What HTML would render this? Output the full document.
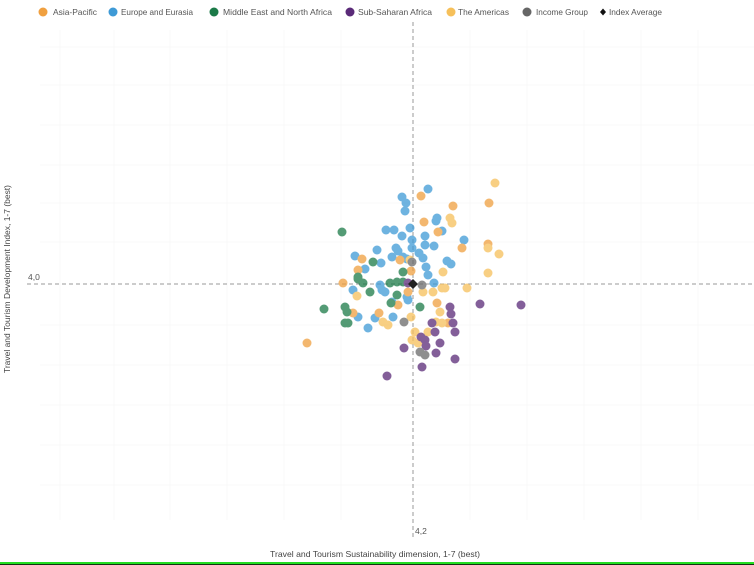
<!DOCTYPE html>
<html><head><meta charset="utf-8"><style>
html,body{margin:0;padding:0;background:#fff;}
svg{display:block;}
text{font-family:"Liberation Sans",sans-serif;}
</style></head><body>
<svg width="754" height="565" viewBox="0 0 754 565" xmlns="http://www.w3.org/2000/svg">
<rect width="754" height="565" fill="#fff"/>
<!-- faint grid -->
<g stroke="#f9f9f9" stroke-width="1">
<line x1="60" y1="30" x2="60" y2="520"/><line x1="114" y1="30" x2="114" y2="520"/><line x1="170" y1="30" x2="170" y2="520"/><line x1="227" y1="30" x2="227" y2="520"/>
<line x1="284" y1="30" x2="284" y2="520"/><line x1="341" y1="30" x2="341" y2="520"/><line x1="470" y1="30" x2="470" y2="520"/><line x1="527" y1="30" x2="527" y2="520"/>
<line x1="584" y1="30" x2="584" y2="520"/><line x1="641" y1="30" x2="641" y2="520"/><line x1="698" y1="30" x2="698" y2="520"/>
<line x1="40" y1="47" x2="754" y2="47"/><line x1="40" y1="85" x2="754" y2="85"/><line x1="40" y1="125" x2="754" y2="125"/><line x1="40" y1="165" x2="754" y2="165"/>
<line x1="40" y1="203" x2="754" y2="203"/><line x1="40" y1="242" x2="754" y2="242"/><line x1="40" y1="325" x2="754" y2="325"/><line x1="40" y1="365" x2="754" y2="365"/>
<line x1="40" y1="405" x2="754" y2="405"/><line x1="40" y1="445" x2="754" y2="445"/><line x1="40" y1="485" x2="754" y2="485"/>
</g>
<!-- legend -->
<g font-size="8.5" fill="#555">
<circle cx="43" cy="12" r="4.5" fill="#f0a040"/><text x="53" y="15" textLength="44" lengthAdjust="spacingAndGlyphs">Asia-Pacific</text>
<circle cx="113" cy="12" r="4.5" fill="#3e9ad6"/><text x="121" y="15" textLength="72" lengthAdjust="spacingAndGlyphs">Europe and Eurasia</text>
<circle cx="214" cy="12" r="4.5" fill="#1b7a48"/><text x="223" y="15" textLength="109" lengthAdjust="spacingAndGlyphs">Middle East and North Africa</text>
<circle cx="350" cy="12" r="4.5" fill="#5a2a78"/><text x="358" y="15" textLength="74" lengthAdjust="spacingAndGlyphs">Sub-Saharan Africa</text>
<circle cx="451" cy="12" r="4.5" fill="#f6c05a"/><text x="458" y="15" textLength="51" lengthAdjust="spacingAndGlyphs">The Americas</text>
<circle cx="527" cy="12" r="4.5" fill="#666"/><text x="536" y="15" textLength="52" lengthAdjust="spacingAndGlyphs">Income Group</text>
<path d="M603 8.5 L606 12 L603 15.5 L600 12 Z" fill="#111"/><text x="609" y="15" textLength="53" lengthAdjust="spacingAndGlyphs">Index Average</text>
</g>
<!-- reference lines -->
<line x1="413" y1="22" x2="413" y2="540" stroke="#999" stroke-width="1" stroke-dasharray="4,3"/>
<line x1="27" y1="284" x2="754" y2="284" stroke="#999" stroke-width="1" stroke-dasharray="4,3"/>
<text x="28" y="280" font-size="8.5" fill="#555">4,0</text>
<text x="415" y="534" font-size="8.5" fill="#555">4,2</text>
<text x="375" y="557" font-size="8.5" fill="#444" text-anchor="middle" textLength="210" lengthAdjust="spacingAndGlyphs">Travel and Tourism Sustainability dimension, 1-7 (best)</text>
<text transform="translate(10,279) rotate(-90)" font-size="8.5" fill="#444" text-anchor="middle" textLength="188" lengthAdjust="spacingAndGlyphs">Travel and Tourism Development Index, 1-7 (best)</text>
<!-- points -->
<g opacity="0.75">
<!-- Europe -->
<g fill="#3e9ad6">
<circle cx="428" cy="189" r="4.5"/><circle cx="402" cy="197" r="4.5"/><circle cx="406" cy="203" r="4.5"/><circle cx="405" cy="211" r="4.5"/>
<circle cx="437" cy="218" r="4.5"/><circle cx="436" cy="221" r="4.5"/><circle cx="442" cy="231" r="4.5"/><circle cx="386" cy="230" r="4.5"/>
<circle cx="394" cy="230" r="4.5"/><circle cx="410" cy="228" r="4.5"/><circle cx="402" cy="236" r="4.5"/><circle cx="425" cy="236" r="4.5"/>
<circle cx="464" cy="240" r="4.5"/><circle cx="377" cy="250" r="4.5"/><circle cx="396" cy="248" r="4.5"/><circle cx="398" cy="251" r="4.5"/>
<circle cx="412" cy="240" r="4.5"/><circle cx="412" cy="248" r="4.5"/><circle cx="425" cy="245" r="4.5"/><circle cx="434" cy="246" r="4.5"/>
<circle cx="419" cy="253" r="4.5"/><circle cx="423" cy="258" r="4.5"/><circle cx="403" cy="257" r="4.5"/><circle cx="407" cy="259" r="4.5"/>
<circle cx="355" cy="256" r="4.5"/><circle cx="392" cy="257" r="4.5"/><circle cx="381" cy="263" r="4.5"/><circle cx="447" cy="261" r="4.5"/>
<circle cx="451" cy="264" r="4.5"/><circle cx="365" cy="269" r="4.5"/><circle cx="426" cy="267" r="4.5"/><circle cx="428" cy="275" r="4.5"/>
<circle cx="434" cy="283" r="4.5"/><circle cx="353" cy="290" r="4.5"/><circle cx="380" cy="285" r="4.5"/><circle cx="382" cy="290" r="4.5"/>
<circle cx="385" cy="292" r="4.5"/><circle cx="407" cy="297" r="4.5"/><circle cx="408" cy="300" r="4.5"/><circle cx="392" cy="302" r="4.5"/>
<circle cx="358" cy="317" r="4.5"/><circle cx="375" cy="318" r="4.5"/><circle cx="393" cy="317" r="4.5"/><circle cx="368" cy="328" r="4.5"/>
</g>
<!-- Asia-Pacific -->
<g fill="#f0a040">
<circle cx="421" cy="196" r="4.5"/><circle cx="453" cy="206" r="4.5"/><circle cx="489" cy="203" r="4.5"/><circle cx="424" cy="222" r="4.5"/>
<circle cx="438" cy="232" r="4.5"/><circle cx="462" cy="248" r="4.5"/><circle cx="488" cy="244" r="4.5"/><circle cx="400" cy="260" r="4.5"/>
<circle cx="362" cy="259" r="4.5"/><circle cx="358" cy="270" r="4.5"/><circle cx="411" cy="271" r="4.5"/><circle cx="343" cy="283" r="4.5"/>
<circle cx="408" cy="292" r="4.5"/><circle cx="353" cy="313" r="4.5"/><circle cx="379" cy="313" r="4.5"/><circle cx="437" cy="303" r="4.5"/>
<circle cx="307" cy="343" r="4.5"/><circle cx="398" cy="305" r="4.5"/><circle cx="448" cy="323" r="4.5"/>
</g>
<!-- Americas -->
<g fill="#f6c05a">
<circle cx="495" cy="183" r="4.5"/><circle cx="450" cy="218" r="4.5"/><circle cx="452" cy="223" r="4.5"/><circle cx="488" cy="248" r="4.5"/>
<circle cx="499" cy="254" r="4.5"/><circle cx="410" cy="260" r="4.5"/><circle cx="443" cy="272" r="4.5"/><circle cx="488" cy="273" r="4.5"/>
<circle cx="423" cy="292" r="4.5"/><circle cx="433" cy="292" r="4.5"/><circle cx="442" cy="288" r="4.5"/><circle cx="445" cy="288" r="4.5"/>
<circle cx="467" cy="288" r="4.5"/><circle cx="357" cy="296" r="4.5"/><circle cx="383" cy="322" r="4.5"/><circle cx="388" cy="325" r="4.5"/>
<circle cx="411" cy="317" r="4.5"/><circle cx="440" cy="312" r="4.5"/><circle cx="436" cy="322" r="4.5"/><circle cx="442" cy="323" r="4.5"/>
<circle cx="428" cy="332" r="4.5"/><circle cx="415" cy="332" r="4.5"/><circle cx="412" cy="340" r="4.5"/><circle cx="418" cy="343" r="4.5"/>
</g>
<!-- Middle East -->
<g fill="#1b7a48">
<circle cx="342" cy="232" r="4.5"/><circle cx="373" cy="262" r="4.5"/><circle cx="403" cy="272" r="4.5"/><circle cx="358" cy="277" r="4.5"/>
<circle cx="358" cy="279" r="4.5"/><circle cx="363" cy="283" r="4.5"/><circle cx="370" cy="292" r="4.5"/><circle cx="390" cy="283" r="4.5"/>
<circle cx="397" cy="282" r="4.5"/><circle cx="403" cy="282" r="4.5"/><circle cx="397" cy="295" r="4.5"/><circle cx="391" cy="303" r="4.5"/>
<circle cx="324" cy="309" r="4.5"/><circle cx="345" cy="307" r="4.5"/><circle cx="347" cy="312" r="4.5"/><circle cx="345" cy="323" r="4.5"/>
<circle cx="348" cy="323" r="4.5"/><circle cx="420" cy="307" r="4.5"/>
</g>
<!-- Sub-Saharan -->
<g fill="#5a2a78">
<circle cx="480" cy="304" r="4.5"/><circle cx="521" cy="305" r="4.5"/><circle cx="450" cy="307" r="4.5"/><circle cx="451" cy="314" r="4.5"/>
<circle cx="432" cy="323" r="4.5"/><circle cx="453" cy="323" r="4.5"/><circle cx="435" cy="332" r="4.5"/><circle cx="455" cy="332" r="4.5"/>
<circle cx="421" cy="337" r="4.5"/><circle cx="425" cy="340" r="4.5"/><circle cx="440" cy="343" r="4.5"/><circle cx="426" cy="346" r="4.5"/>
<circle cx="404" cy="348" r="4.5"/><circle cx="436" cy="353" r="4.5"/><circle cx="455" cy="359" r="4.5"/><circle cx="422" cy="367" r="4.5"/>
<circle cx="387" cy="376" r="4.5"/><circle cx="408" cy="283" r="4.5"/>
</g>
<!-- Income group -->
<g fill="#6a6a6a">
<circle cx="422" cy="285" r="4.5"/><circle cx="404" cy="322" r="4.5"/><circle cx="420" cy="352" r="4.5"/><circle cx="425" cy="355" r="4.5"/>
<circle cx="412" cy="262" r="4.5"/>
</g>
</g>
<path d="M413 279 L418 284 L413 289 L408 284 Z" fill="#222"/>
<!-- bottom border -->
<rect x="0" y="562" width="754" height="2" fill="#22dd22"/>
<rect x="0" y="564" width="754" height="1" fill="#113311"/>
</svg>
</body></html>
